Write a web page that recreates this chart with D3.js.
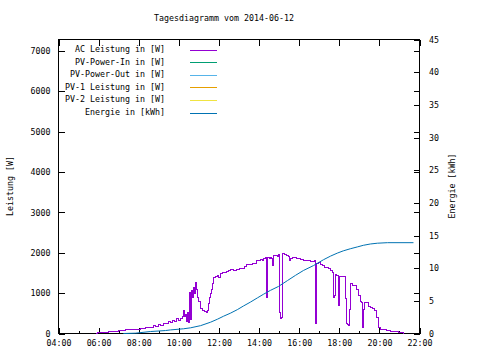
<!DOCTYPE html>
<html><head><meta charset="utf-8">
<script src="https://cdn.jsdelivr.net/npm/d3@7"></script>
<style>html,body{margin:0;padding:0;background:#fff;}svg{display:block;}</style>
</head><body>
<script>
const title = "Tagesdiagramm vom 2014-06-12";
const yLabel = "Leistung [W]";
const y2Label = "Energie [kWh]";
const legendLabels = ["AC Leistung in [W]", "PV-Power-In in [W]", "PV-Power-Out in [W]", "PV-1 Leistung in [W]", "PV-2 Leistung in [W]", "Energie in [kWh]"];
const seriesColors = ["#9400d3", "#009e73", "#56b4e9", "#e69f00", "#f0e442", "#0072b2"];
const xTickHours = [4, 6, 8, 10, 12, 14, 16, 18, 20, 22];
const yTicks = [0, 1000, 2000, 3000, 4000, 5000, 6000, 7000];
const y2Ticks = [0, 5, 10, 15, 20, 25, 30, 35, 40, 45];

const acTimes = ["05:51","05:57","06:15","06:30","06:45","07:00","07:20","07:41","08:05","08:20","08:29","08:35","08:44","08:50","08:59","09:05","09:14","09:20","09:29","09:35","09:41","09:47","09:53","09:59","10:05","10:11","10:14","10:17","10:20","10:23","10:26","10:29","10:32","10:35","10:38","10:41","10:44","10:47","10:50","10:53","10:56","10:59","11:05","11:11","11:17","11:23","11:26","11:29","11:32","11:35","11:38","11:41","11:44","11:50","11:56","11:59","12:05","12:11","12:17","12:23","12:29","12:34","12:43","12:52","13:01","13:10","13:16","13:22","13:28","13:34","13:40","13:46","13:52","13:58","14:04","14:10","14:13","14:19","14:22","14:25","14:31","14:34","14:37","14:40","14:43","14:49","14:55","14:58","15:01","15:04","15:07","15:10","15:16","15:22","15:28","15:31","15:34","15:40","15:46","15:52","15:58","16:04","16:13","16:22","16:28","16:34","16:40","16:46","16:49","16:52","16:58","17:04","17:10","17:16","17:22","17:28","17:34","17:40","17:43","17:46","17:49","17:52","17:54","17:57","18:00","18:06","18:12","18:18","18:21","18:24","18:27","18:30","18:33","18:39","18:45","18:51","18:57","19:03","19:06","19:09","19:12","19:15","19:21","19:27","19:33","19:39","19:45","19:51","19:57","20:03","20:12","20:21","20:33","20:48","20:57","21:12"];
const acPower = [0,20,30,50,60,70,100,110,130,140,160,150,190,170,230,200,260,240,300,280,330,300,360,330,380,420,570,430,480,300,530,280,1020,350,1060,900,1150,1000,1270,1100,900,800,620,570,540,520,560,740,880,990,1100,1250,1390,1400,1440,1380,1485,1500,1520,1530,1560,1575,1570,1580,1600,1620,1650,1720,1700,1710,1740,1730,1820,1800,1830,1820,1850,1870,900,1880,1860,1890,1850,1680,1930,1920,1910,1950,530,380,400,1970,1950,1930,1900,1800,1850,1890,1870,1850,1860,1840,1820,1810,1800,1790,1780,1800,240,1740,1760,1720,1680,1640,1640,1600,1560,1500,900,950,1460,1435,1430,690,1410,1400,1410,860,250,220,200,600,1230,1200,1190,1100,950,800,780,160,600,780,760,680,650,620,560,400,160,110,90,70,50,40,30,0];
const pvInPower = [];
const pvOutPower = [];
const pv1Power = [];
const pv2Power = [];
const energyTimes = ["07:14","07:50","08:35","09:20","09:35","10:14","10:35","11:05","11:35","11:56","12:14","12:34","12:55","13:13","13:34","13:55","14:13","14:34","14:58","15:25","15:49","16:13","16:43","17:13","17:34","17:54","18:12","18:33","18:54","19:12","19:33","19:54","20:24","21:42"];
const energyKWh = [0,0.05,0.3,0.45,0.55,0.72,0.87,1.2,1.73,2.2,2.65,3.1,3.65,4.2,4.8,5.45,6.0,6.6,7.2,8.1,8.9,9.65,10.4,11.3,11.85,12.3,12.65,12.97,13.25,13.5,13.7,13.82,13.9,13.9];

const FONT = "'DejaVu Sans Mono', monospace";
const FS = "8.3px";
const hrs = s => { const [h, m] = s.split(":").map(Number); return h + m / 60; };
const pad = h => (h < 10 ? "0" : "") + h + ":00";

const svg = d3.select("body").append("svg").attr("width", 480).attr("height", 360)
  .style("font-family", FONT).style("font-size", FS);

const L = 58.5, R = 419.5, T = 39.5, B = 333.5;
const x = d3.scaleLinear().domain([4, 22]).range([L, R]);
const y = d3.scaleLinear().domain([0, 7280]).range([B, T]);
const y2 = d3.scaleLinear().domain([0, 45]).range([B, T]);

function styleAxis(g, labels) {
  g.select(".domain").remove();
  g.selectAll(".tick line").attr("stroke", "#000").attr("shape-rendering", "crispEdges");
  g.selectAll("text").attr("font-family", FONT).attr("font-size", FS).attr("fill", "#000");
  g.attr("font-family", FONT).attr("font-size", FS);
}

// bottom major + minor
svg.append("g").attr("transform", `translate(0,${B})`)
  .call(d3.axisBottom(x).tickValues(xTickHours).tickFormat(pad).tickSize(-6).tickSizeOuter(0).tickPadding(7)).call(styleAxis);
svg.append("g").attr("transform", `translate(0,${B})`)
  .call(d3.axisBottom(x).tickValues(xTickHours.slice(0, -1).map(h => h + 1)).tickFormat("").tickSize(-3).tickSizeOuter(0)).call(styleAxis);
// top mirror
svg.append("g").attr("transform", `translate(0,${T})`)
  .call(d3.axisTop(x).tickValues(xTickHours).tickFormat("").tickSize(-6).tickSizeOuter(0)).call(styleAxis);
// left
svg.append("g").attr("transform", `translate(${L},0)`)
  .call(d3.axisLeft(y).tickValues(yTicks).tickFormat(d => d).tickSize(-6).tickSizeOuter(0).tickPadding(8)).call(styleAxis);
// right mirror of y
svg.append("g").attr("transform", `translate(${R},0)`)
  .call(d3.axisRight(y).tickValues(yTicks).tickFormat("").tickSize(-6).tickSizeOuter(0)).call(styleAxis);
// right y2
svg.append("g").attr("transform", `translate(${R},0)`)
  .call(d3.axisRight(y2).tickValues(y2Ticks).tickFormat(d => d).tickSize(-6).tickSizeOuter(0).tickPadding(9.5)).call(styleAxis);

// border
svg.append("rect").attr("x", L).attr("y", T).attr("width", R - L).attr("height", B - T)
  .attr("fill", "none").attr("stroke", "#000").attr("shape-rendering", "crispEdges");

// title and axis labels
svg.append("text").attr("x", 224).attr("y", 18.5).attr("text-anchor", "middle")
  .attr("dominant-baseline", "middle").text(title);
svg.append("text").attr("transform", `translate(10,186) rotate(-90)`).attr("text-anchor", "middle")
  .attr("dominant-baseline", "middle").text(yLabel);
svg.append("text").attr("transform", `translate(452.5,186) rotate(-90)`).attr("text-anchor", "middle")
  .attr("dominant-baseline", "middle").text(y2Label);

// data lines
const acData = acTimes.map((t, i) => ({ t: hrs(t), v: acPower[i] }));
const enData = energyTimes.map((t, i) => ({ t: hrs(t), v: energyKWh[i] }));
const emptySeries = [pvInPower, pvOutPower, pv1Power, pv2Power];

svg.append("path").datum(acData)
  .attr("d", d3.line().x(d => x(d.t)).y(d => y(d.v)).curve(d3.curveStepAfter))
  .attr("fill", "none").attr("stroke", seriesColors[0]).attr("stroke-width", 1).attr("shape-rendering", "crispEdges");
emptySeries.forEach((s, i) => {
  svg.append("path").datum(s)
    .attr("d", d3.line().x(d => x(hrs(d.t))).y(d => y(d.v)))
    .attr("fill", "none").attr("stroke", seriesColors[i + 1]);
});
svg.append("path").datum(enData)
  .attr("d", d3.line().x(d => x(d.t)).y(d => y2(d.v)))
  .attr("fill", "none").attr("stroke", seriesColors[5]).attr("stroke-width", 1);

// legend
const lg = svg.append("g");
legendLabels.forEach((lab, i) => {
  const yy = 49.5 + i * 12.6;
  lg.append("text").attr("x", 165).attr("y", yy).attr("text-anchor", "end")
    .attr("dominant-baseline", "middle").text(lab);
  lg.append("line").attr("x1", 190).attr("x2", 217).attr("y1", Math.round(yy) + 0.5).attr("y2", Math.round(yy) + 0.5)
    .attr("stroke", seriesColors[i]).attr("stroke-width", 1);
});
</script>
</body></html>
